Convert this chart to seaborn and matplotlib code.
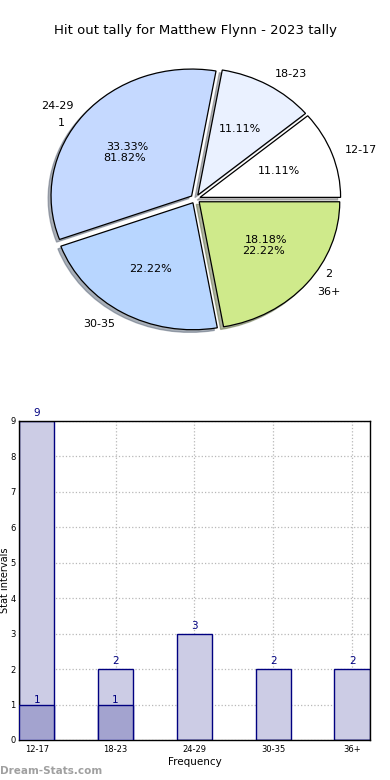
import matplotlib
matplotlib.use("Agg")
import matplotlib.pyplot as plt
import seaborn as sns
import pandas as pd

# data
age_groups = ["12-17", "18-23", "24-29", "30-35", "36+"]
age_counts = [1, 1, 3, 2, 2]
age_colors = ["#ffffff", "#eaf1ff", "#c5d9ff", "#b8d6ff", "#cfea8b"]

tally_labels = ["1", "2"]
tally_counts = [9, 2]

total_counts = [9, 2, 3, 2, 2]
low_counts = [1, 1, 0, 0, 0]

sns.set_style("white")
plt.rcParams["font.family"] = ["DejaVu Sans"]
plt.rcParams["text.color"] = "black"

fig = plt.figure(figsize=(3.9, 7.8), dpi=100)

# pie chart
ax1 = fig.add_axes([0.036, 0.535, 0.93, 0.42])
ax1.pie(age_counts, labels=age_groups, colors=age_colors, autopct="%.2f%%",
        explode=[0.035] * len(age_counts),
        shadow=dict(ox=-0.015, oy=-0.015, shade=0.55), startangle=0,
        wedgeprops=dict(edgecolor="black", linewidth=0.9),
        textprops=dict(fontsize=8, color="black"))
wedges, texts, autotexts = ax1.pie(tally_counts, labels=tally_labels, autopct="%.2f%%",
                                   startangle=0, textprops=dict(fontsize=8, color="black"))
for w in wedges:
    w.set_visible(False)
ax1.set_aspect("auto")
ax1.set_xlim(-1.29, 1.29)
ax1.set_ylim(-1.29, 1.29)

fig.text(0.5, 0.9615, "Hit out tally for Matthew Flynn - 2023 tally",
         ha="center", va="center", fontsize=9.5, color="black")

# bar chart
ax2 = fig.add_axes([0.0487, 0.0513, 0.9, 0.409])
df = pd.DataFrame({"group": age_groups, "total": total_counts, "low": low_counts})
sns.barplot(data=df, x="group", y="total", color="#ccccE5", saturation=1,
            width=0.45, edgecolor="#000080", linewidth=1, ax=ax2, zorder=2)
sns.barplot(data=df, x="group", y="low", color="#a3a3cf", saturation=1,
            width=0.45, edgecolor="#000080", linewidth=1, ax=ax2, zorder=3)

for i, v in enumerate(total_counts):
    ax2.text(i, v + 0.08, str(v), ha="center", va="bottom", color="#000080", fontsize=7.5)
for i, v in enumerate(low_counts):
    if v > 0:
        ax2.text(i, v - 0.02, str(v), ha="center", va="bottom", color="#000080", fontsize=7.5)

ax2.set_xlim(-0.225, 4.225)
ax2.set_ylim(0, 9)
ax2.set_yticks(range(0, 10))
ax2.tick_params(axis="both", labelsize=6, length=3, direction="in", colors="black")
ax2.tick_params(axis="y", pad=2.5)
ax2.grid(True, linestyle=":", color="#b8b8b8", linewidth=0.9, zorder=0)
ax2.set_axisbelow(True)
ax2.set_xlabel("Frequency", fontsize=7.5, labelpad=2, color="black")
ax2.set_ylabel("Stat intervals", fontsize=7, color="black")
ax2.yaxis.set_label_coords(-0.027, 0.5)
for s in ax2.spines.values():
    s.set_color("black")
    s.set_linewidth(1)

fig.text(0.0, 0.0115, "Dream-Stats.com", color="#a0a0a0", fontsize=7.5,
         weight="bold", ha="left", va="center")

fig.savefig("out.png", dpi=100)
